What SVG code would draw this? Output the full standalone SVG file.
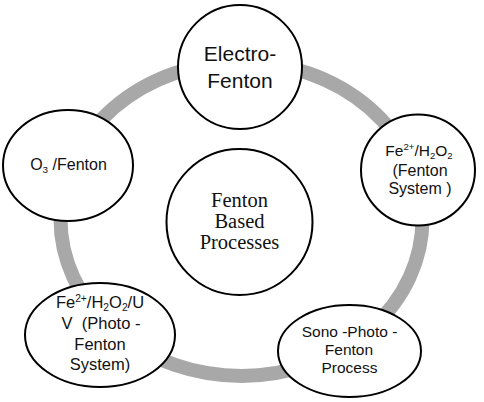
<svg xmlns="http://www.w3.org/2000/svg" width="484" height="402" viewBox="0 0 484 402">
<style>
.node{fill:#ffffff;stroke:#000000;stroke-width:2}
.ring{fill:none;stroke:#a8a8a8;stroke-width:14}
.t{font-family:"Liberation Sans",Arial,sans-serif;fill:#111111;text-anchor:middle}
.s{font-family:"Liberation Serif","Times New Roman",serif;fill:#111111;text-anchor:middle}
.sup{font-size:62%}
</style>
<rect width="484" height="402" fill="#ffffff"/>
<g id="connectors">
<ellipse class="ring" cx="241.5" cy="219" rx="181" ry="157"/>
</g>
<g id="electro-fenton">
<circle class="node" cx="240" cy="67" r="62"/>
<text class="t" font-size="21" x="240" y="61">Electro-</text>
<text class="t" font-size="21" x="240" y="88">Fenton</text>
</g>
<g id="fenton-system">
<ellipse class="node" cx="418" cy="170" rx="57" ry="55.5"/>
<text class="t" font-size="15.5" x="419" y="156">Fe<tspan class="sup" dy="-6">2+</tspan><tspan dy="6">/H</tspan><tspan class="sup" dy="2.5">2</tspan><tspan dy="-2.5">O</tspan><tspan class="sup" dy="2.5">2</tspan></text>
<text class="t" font-size="16" x="420" y="176">(Fenton</text>
<text class="t" font-size="16" x="420" y="194">System )</text>
</g>
<g id="o3-fenton">
<ellipse class="node" cx="68" cy="165.5" rx="65" ry="55.5"/>
<text class="t" font-size="16" x="68.5" y="170">O<tspan class="sup" dy="3">3</tspan><tspan dy="-3"> /Fenton</tspan></text>
</g>
<g id="center">
<circle class="node" cx="239.5" cy="222" r="73"/>
<text class="s" font-size="20.5" x="239.5" y="207">Fenton</text>
<text class="s" font-size="20.5" x="239.5" y="228">Based</text>
<text class="s" font-size="20.5" x="239.5" y="249">Processes</text>
</g>
<g id="photo-fenton">
<ellipse class="node" cx="100" cy="335" rx="75" ry="52"/>
<text class="t" font-size="16.5" x="100" y="308">Fe<tspan class="sup" dy="-6">2+</tspan><tspan dy="6">/H</tspan><tspan class="sup" dy="2.5">2</tspan><tspan dy="-2.5">O</tspan><tspan class="sup" dy="2.5">2</tspan><tspan dy="-2.5">/U</tspan></text>
<text class="t" font-size="16.5" x="101" y="329" xml:space="preserve">V  (Photo -</text>
<text class="t" font-size="16.5" x="100" y="350">Fenton</text>
<text class="t" font-size="16.5" x="100" y="370">System)</text>
</g>
<g id="sono-photo-fenton">
<ellipse class="node" cx="349.5" cy="351" rx="71.5" ry="46"/>
<text class="t" font-size="15.5" x="349.5" y="337">Sono -Photo -</text>
<text class="t" font-size="15.5" x="349" y="355">Fenton</text>
<text class="t" font-size="15.5" x="349.5" y="373">Process</text>
</g>
</svg>
